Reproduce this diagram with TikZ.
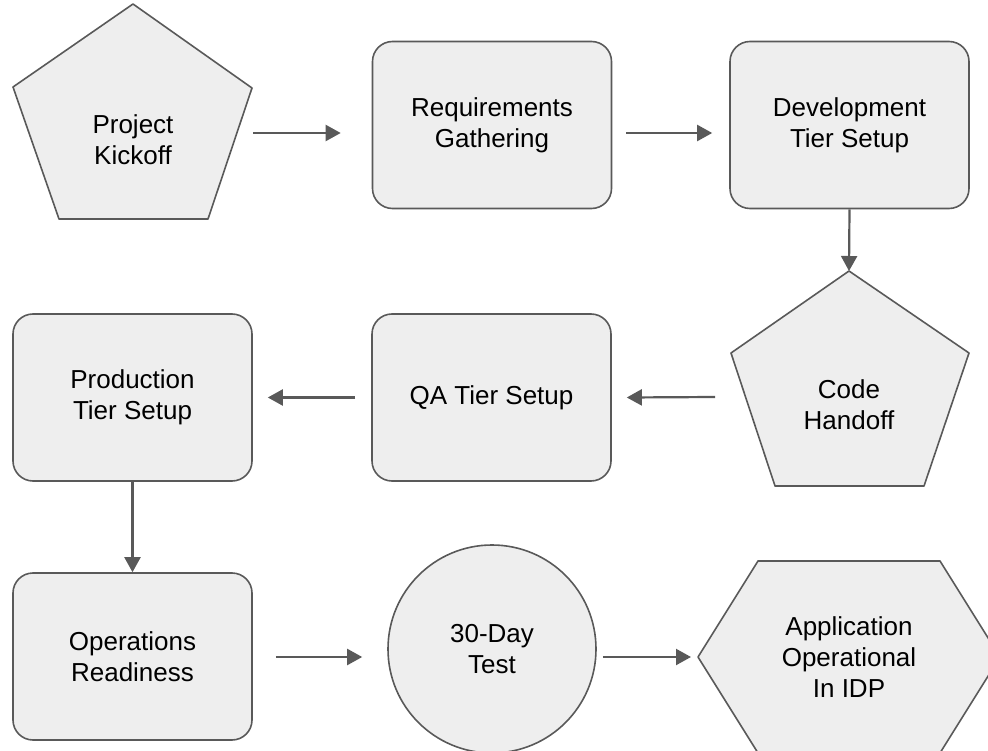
\documentclass[tikz,border=0pt]{standalone}
\usepackage{fontspec}
\setmainfont{Liberation Sans}
\usetikzlibrary{arrows.meta,calc}
\definecolor{shapefill}{HTML}{EEEEEE}
\definecolor{edgegray}{HTML}{595959}
\tikzset{
  stage/.style={draw=edgegray, fill=shapefill, line width=1.6pt, line join=round},
  stepbox/.style={stage, rectangle, rounded corners=20pt, minimum width=239pt, minimum height=167pt,
    align=center, font=\fontsize{26}{31}\selectfont, inner sep=0pt},
  stagetext/.style={align=center, font=\fontsize{26}{31}\selectfont, inner sep=0pt},
  arr/.style={draw=edgegray, line width=2.2pt, -{Triangle[length=15pt,width=16pt]}},
}
\begin{document}
\begin{tikzpicture}[x=1pt,y=-1pt]
\useasboundingbox (0,0) rectangle (988,751);
\clip (0,0) rectangle (988,751);

% start: pentagon
\draw[stage] (133,4) coordinate (kicktop) -- (252,88) -- (208,219) -- (59,219) -- (13,87) -- cycle;
\node[stagetext] (kick) at (133,140) {Project\\Kickoff};

% top row
\node[stepbox] (req) at (492,125) {Requirements\\Gathering};
\node[stepbox] (dev) at (849.5,125) {Development\\Tier Setup};

% handoff pentagon
\draw[stage] (849,271) coordinate (codetop) -- (969,353) -- (924,486) -- (775,486) -- (731,353) -- cycle;
\node[stagetext] (code) at (849,405) {Code\\Handoff};

% middle row
\node[stepbox] (qa) at (491.5,397.5) {QA Tier Setup};
\node[stepbox] (prod) at (132.5,397.5) {Production\\Tier Setup};

% bottom row
\node[stepbox] (ops) at (132.5,656.5) {Operations\\Readiness};
\node[stage, circle, minimum size=208pt, inner sep=0pt, align=center,
      font=\fontsize{26}{31}\selectfont] (test) at (492,649) {30-Day\\Test};
\draw[stage] (698,657) -- (758,561) -- (940,561) -- (1000,657) -- (940,753) -- (758,753) -- cycle;
\node[stagetext] (app) at (849,657) {Application\\Operational\\In IDP};

% connectors
\draw[arr] ($(kick)+(120,-7)$) -- ($(req.west)+(-31,8)$);
\draw[arr] ($(req.east)+(14,8)$) -- ($(dev.west)+(-17,8)$);
\draw[arr] (dev.south) -- (codetop);
\draw[arr] ($(code)+(-134,-8)$) -- ($(qa.east)+(15,0)$);
\draw[arr] ($(qa.west)+(-16,0)$) -- ($(prod.east)+(15,0)$);
\draw[arr] (prod.south) -- (ops.north);
\draw[arr] ($(ops.east)+(23,0.5)$) -- ($(test.west)+(-25,8)$);
\draw[arr] ($(test.east)+(6,8)$) -- ($(app)+(-158,0)$);
\end{tikzpicture}
\end{document}
